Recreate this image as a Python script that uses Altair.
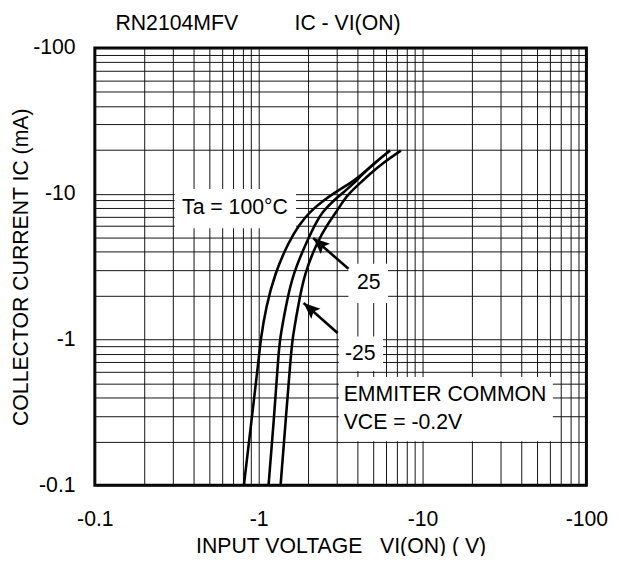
import altair as alt
import pandas as pd

# ---- data (absolute values; axes show them as negative) ----
current_ma = [0.1, 0.288, 0.733, 1.0, 1.67, 2.84, 4.74, 6.17, 7.56, 8.83, 10.3, 12.05, 13.65, 16.4, 19.8]
v_ta100 = [0.812, 0.907, 1.000, 1.028, 1.107, 1.254, 1.531, 1.774, 2.057, 2.43, 2.95, 3.72, 4.29, 5.14, 6.32]
v_ta25 = [1.148, 1.240, 1.314, 1.344, 1.460, 1.618, 1.973, 2.205, 2.454, 2.818, 3.31, 3.89, 4.29, 5.14, 6.32]
v_tam25 = [1.36, 1.464, 1.565, 1.603, 1.735, 1.901, 2.288, 2.630, 2.99, 3.25, 3.63, 4.23, 4.76, 5.77, 7.37]
series_names = ["100", "25", "-25"]

tick_values = [0.1, 0.2, 0.3, 0.4, 0.5, 0.6, 0.7, 0.8, 0.9,
               1, 2, 3, 4, 5, 6, 7, 8, 9,
               10, 20, 30, 40, 50, 60, 70, 80, 90, 100]
decade_values = [0.1, 1, 10, 100]
decade_labels = ["-0.1", "-1", "-10", "-100"]

# annotation text (positions in data units)
ann_text = ["Ta = 100°C", "25", "-25"]
ann_v = [0.716, 4.70, 4.17]
ann_i = [8.04, 2.46, 0.80]
cond_text = ["EMMITER COMMON", "VCE = -0.2V"]
cond_v = [3.30, 3.30]
cond_i = [0.419, 0.266]

box_v = [0.307, 3.53, 3.08, 3.08]
box_v2 = [1.69, 6.15, 5.74, 62.4]
box_i = [10.8, 3.31, 1.05, 0.553]
box_i2 = [5.80, 1.78, 0.608, 0.201]

arrow_tail_v = [3.53, 3.03]
arrow_tail_i = [3.06, 1.11]
arrow_tip_v = [2.15, 1.88]
arrow_tip_i = [4.97, 1.78]

# ---- build tables ----
rows = []
for name, vs in zip(series_names, [v_ta100, v_ta25, v_tam25]):
    for k, (v, i) in enumerate(zip(vs, current_ma)):
        rows.append({"series": name, "v": v, "i": i, "order": k})
curves_df = pd.DataFrame(rows)
boxes_df = pd.DataFrame({"v": box_v, "v2": box_v2, "i": box_i, "i2": box_i2})
ann_df = pd.DataFrame({"v": ann_v, "i": ann_i, "t": ann_text})
cond_df = pd.DataFrame({"v": cond_v, "i": cond_i, "t": cond_text})
arrows_df = pd.DataFrame({"v": arrow_tail_v, "i": arrow_tail_i,
                          "v2": arrow_tip_v, "i2": arrow_tip_i})
heads_df = pd.DataFrame({"v": arrow_tip_v, "i": arrow_tip_i})

label_expr = " : ".join(
    f"datum.value == {v} ? '{l}'" for v, l in zip(decade_values, decade_labels)
) + " : ''"

FONT = "Liberation Sans"
FS = 21.5

xscale = alt.Scale(type="log", domain=[0.1, 100], nice=False)
yscale = alt.Scale(type="log", domain=[0.1, 100], nice=False)

X = alt.X("v:Q", scale=xscale,
          axis=alt.Axis(values=tick_values, labelExpr=label_expr,
                        title="INPUT VOLTAGE\u00a0\u00a0 VI(ON) ( V)",
                        titleX=249, titleY=62, titleBaseline="middle",
                        titleAlign="center", labelPadding=24))
Y = alt.Y("i:Q", scale=yscale,
          axis=alt.Axis(values=tick_values, labelExpr=label_expr,
                        title="COLLECTOR CURRENT IC (mA)",
                        titleX=-74, titleY=221.5, titleAngle=270,
                        titleBaseline="middle", titleAlign="center",
                        labelPadding=20))

boxes = alt.Chart(boxes_df).mark_rect(color="white").encode(
    x=X, x2="v2:Q", y=Y, y2="i2:Q")

curves = alt.Chart(curves_df).mark_line(
    color="black", strokeWidth=2.6, interpolate="basis").encode(
    x=X, y=Y, detail="series:N", order="order:Q")

shafts = alt.Chart(arrows_df).mark_rule(color="black", strokeWidth=2.6).encode(
    x=X, x2="v2:Q", y=Y, y2="i2:Q")

heads = alt.Chart(heads_df).mark_point(
    shape="M0,0L0.42,1L0,0.8L-0.42,1Z", filled=True, size=1100, angle=311.5,
    color="black", opacity=1).encode(x=X, y=Y)

ann = alt.Chart(ann_df).mark_text(
    font=FONT, fontSize=FS, color="black", align="center", baseline="middle").encode(
    x=X, y=Y, text="t:N")

cond = alt.Chart(cond_df).mark_text(
    font=FONT, fontSize=FS, color="black", align="left", baseline="middle").encode(
    x=X, y=Y, text="t:N")

t1 = alt.Chart(pd.DataFrame({"t": ["RN2104MFV"]})).mark_text(
    font=FONT, fontSize=FS, color="black", align="center", baseline="middle").encode(
    x=alt.value(83), y=alt.value(-24), text="t:N")
t2 = alt.Chart(pd.DataFrame({"t": ["IC - VI(ON)"]})).mark_text(
    font=FONT, fontSize=FS, color="black", align="center", baseline="middle").encode(
    x=alt.value(256), y=alt.value(-24), text="t:N")

chart = alt.layer(boxes, curves, shafts, heads, ann, cond, t1, t2).properties(
    width=498, height=443,
    padding={"left": 88, "top": 37, "right": 31, "bottom": 68},
    autosize=alt.AutoSizeParams(type="none"),
    background="white",
).configure_view(stroke="black", strokeWidth=3).configure_axis(
    grid=True, gridColor="#111111", gridWidth=1, gridOpacity=1,
    domain=False, ticks=True, tickSize=0,
    labelFont=FONT, labelFontSize=FS, labelColor="black",
    labelFlush=False, labelOverlap=False,
    titleFont=FONT, titleFontSize=FS, titleFontWeight="normal", titleColor="black",
)

chart.save("out.html", embed_options={"renderer": "svg", "actions": False})
